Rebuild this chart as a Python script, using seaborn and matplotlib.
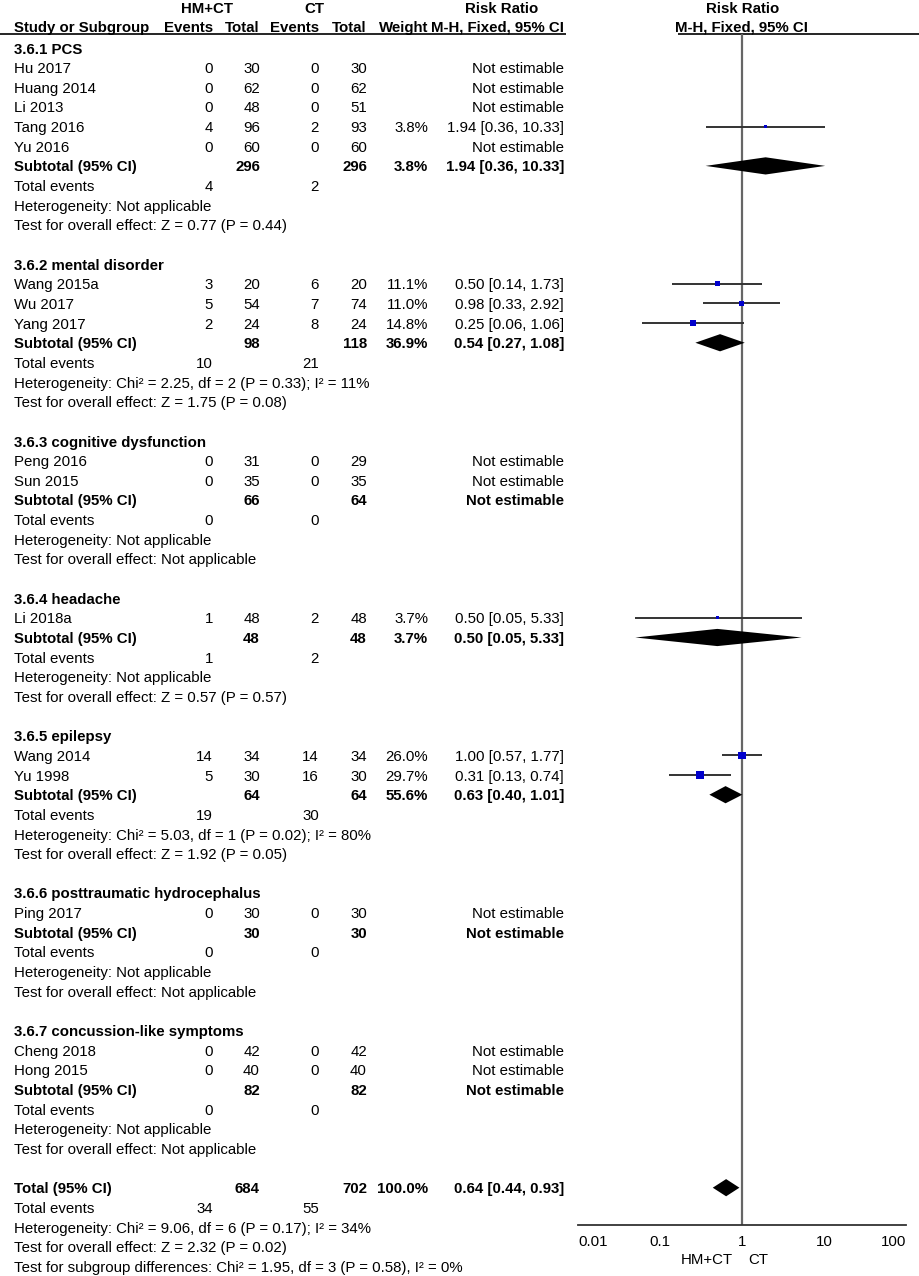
"""
plot.py
Forest plot: HM+CT vs CT, risk ratio by subgroup
"""

import numpy as np
import pandas as pd
import matplotlib

matplotlib.use("Agg")
import matplotlib.pyplot as plt
import seaborn as sns

sns.set_style("white")
plt.rcParams["font.family"] = ["Liberation Sans", "DejaVu Sans"]

# ---------------- data ----------------
group_names = [
    "3.6.1 PCS",
    "3.6.2 mental disorder",
    "3.6.3 cognitive dysfunction",
    "3.6.4 headache",
    "3.6.5 epilepsy",
    "3.6.6 posttraumatic hydrocephalus",
    "3.6.7 concussion-like symptoms",
]

study_group = [0, 0, 0, 0, 0, 1, 1, 1, 2, 2, 3, 4, 4, 5, 6, 6]
study_names = [
    "Hu 2017", "Huang 2014", "Li 2013", "Tang 2016", "Yu 2016",
    "Wang 2015a", "Wu 2017", "Yang 2017",
    "Peng 2016", "Sun 2015",
    "Li 2018a",
    "Wang 2014", "Yu 1998",
    "Ping 2017",
    "Cheng 2018", "Hong 2015",
]
hm_events = [0, 0, 0, 4, 0, 3, 5, 2, 0, 0, 1, 14, 5, 0, 0, 0]
hm_totals = [30, 62, 48, 96, 60, 20, 54, 24, 31, 35, 48, 34, 30, 30, 42, 40]
ct_events = [0, 0, 0, 2, 0, 6, 7, 8, 0, 0, 2, 14, 16, 0, 0, 0]
ct_totals = [30, 62, 51, 93, 60, 20, 74, 24, 29, 35, 48, 34, 30, 30, 42, 40]
nan = np.nan
study_weight = [nan, nan, nan, 3.8, nan, 11.1, 11.0, 14.8, nan, nan, 3.7, 26.0, 29.7, nan, nan, nan]
study_rr = [nan, nan, nan, 1.94, nan, 0.50, 0.98, 0.25, nan, nan, 0.50, 1.00, 0.31, nan, nan, nan]
study_lo = [nan, nan, nan, 0.36, nan, 0.14, 0.33, 0.06, nan, nan, 0.05, 0.57, 0.13, nan, nan, nan]
study_hi = [nan, nan, nan, 10.33, nan, 1.73, 2.92, 1.06, nan, nan, 5.33, 1.77, 0.74, nan, nan, nan]

sub_hm_total = [296, 98, 66, 48, 64, 30, 82]
sub_ct_total = [296, 118, 64, 48, 64, 30, 82]
sub_hm_events = [4, 10, 0, 1, 19, 0, 0]
sub_ct_events = [2, 21, 0, 2, 30, 0, 0]
sub_weight = [3.8, 36.9, nan, 3.7, 55.6, nan, nan]
sub_rr = [1.94, 0.54, nan, 0.50, 0.63, nan, nan]
sub_lo = [0.36, 0.27, nan, 0.05, 0.40, nan, nan]
sub_hi = [10.33, 1.08, nan, 5.33, 1.01, nan, nan]
sub_heterogeneity = [
    "Not applicable",
    "Chi² = 2.25, df = 2 (P = 0.33); I² = 11%",
    "Not applicable",
    "Not applicable",
    "Chi² = 5.03, df = 1 (P = 0.02); I² = 80%",
    "Not applicable",
    "Not applicable",
]
sub_overall = [
    "Z = 0.77 (P = 0.44)",
    "Z = 1.75 (P = 0.08)",
    "Not applicable",
    "Z = 0.57 (P = 0.57)",
    "Z = 1.92 (P = 0.05)",
    "Not applicable",
    "Not applicable",
]

total_hm, total_ct = 684, 702
total_hm_events, total_ct_events = 34, 55
total_weight = 100.0
total_rr, total_lo, total_hi = 0.64, 0.44, 0.93
total_heterogeneity = "Chi² = 9.06, df = 6 (P = 0.17); I² = 34%"
total_overall = "Z = 2.32 (P = 0.02)"
subgroup_diff = "Chi² = 1.95, df = 3 (P = 0.58), I² = 0%"

x_ticks = [0.01, 0.1, 1, 10, 100]
x_tick_labels = ["0.01", "0.1", "1", "10", "100"]

# ---------------- layout ----------------
W, H = 920, 1276
ROW0, DY = 48.0, 19.65
FS = 10.8
BLUE = "#0000CC"
LINE = "#333333"

X_NAME = 14
X_HM_EV, X_HM_TOT = 213, 260
X_CT_EV, X_CT_TOT = 319, 367
X_WEIGHT, X_RR = 428, 564


def row(px):
    return (px - ROW0) / DY


def fmt_rr(est, lo, hi):
    if np.isnan(est):
        return "Not estimable"
    return f"{est:.2f} [{lo:.2f}, {hi:.2f}]"


def fmt_w(w):
    return "" if np.isnan(w) else f"{w:.1f}%"


# build row list
rows = []
for g in range(len(group_names)):
    rows.append(("heading", g))
    for i, sg in enumerate(study_group):
        if sg == g:
            rows.append(("study", i))
    for kind in ["subtotal", "events", "het", "test", "blank"]:
        rows.append((kind, g))
for kind in ["total", "total_events", "total_het", "total_test", "subgroup_test"]:
    rows.append((kind, None))

fig = plt.figure(figsize=(W / 100, H / 100), dpi=100)
ax = fig.add_axes([0, 0, 1, 1])
ax.set_xlim(0, W)
ax.set_ylim(row(H), row(0))
ax.axis("off")


def put(x, r, s, ha="right", bold=False):
    ax.text(x, r + 0.28, s, ha=ha, va="baseline", fontsize=FS,
            fontweight="bold" if bold else "normal", color="black", zorder=3)


# header
hr1, hr2 = row(7.5), row(26.0)
put(207, hr1, "HM+CT", ha="center", bold=True)
put(314, hr1, "CT", ha="center", bold=True)
put(502, hr1, "Risk Ratio", ha="center", bold=True)
put(743, hr1, "Risk Ratio", ha="center", bold=True)
put(X_NAME, hr2, "Study or Subgroup", ha="left", bold=True)
put(X_HM_EV, hr2, "Events", bold=True)
put(X_HM_TOT, hr2, "Total", bold=True)
put(X_CT_EV, hr2, "Events", bold=True)
put(X_CT_TOT, hr2, "Total", bold=True)
put(X_WEIGHT, hr2, "Weight", bold=True)
put(X_RR, hr2, "M-H, Fixed, 95% CI", bold=True)
put(741, hr2, "M-H, Fixed, 95% CI", ha="center", bold=True)
ax.hlines(row(33.5), 0, 566, color="black", lw=1.2, zorder=2)
ax.hlines(row(33.5), 678, W, color="black", lw=1.2, zorder=2)

diamonds = []
for r, (kind, k) in enumerate(rows):
    if kind == "heading":
        put(X_NAME, r, group_names[k], ha="left", bold=True)
    elif kind == "study":
        put(X_NAME, r, study_names[k], ha="left")
        put(X_HM_EV, r, str(hm_events[k]))
        put(X_HM_TOT, r, str(hm_totals[k]))
        put(X_CT_EV, r, str(ct_events[k]))
        put(X_CT_TOT, r, str(ct_totals[k]))
        put(X_WEIGHT, r, fmt_w(study_weight[k]))
        put(X_RR, r, fmt_rr(study_rr[k], study_lo[k], study_hi[k]))
    elif kind == "subtotal":
        put(X_NAME, r, "Subtotal (95% CI)", ha="left", bold=True)
        put(X_HM_TOT, r, str(sub_hm_total[k]), bold=True)
        put(X_CT_TOT, r, str(sub_ct_total[k]), bold=True)
        put(X_WEIGHT, r, fmt_w(sub_weight[k]), bold=True)
        put(X_RR, r, fmt_rr(sub_rr[k], sub_lo[k], sub_hi[k]), bold=True)
        if not np.isnan(sub_rr[k]):
            diamonds.append((r, sub_lo[k], sub_rr[k], sub_hi[k]))
    elif kind == "events":
        put(X_NAME, r, "Total events", ha="left")
        put(X_HM_EV, r, str(sub_hm_events[k]))
        put(X_CT_EV, r, str(sub_ct_events[k]))
    elif kind == "het":
        put(X_NAME, r, "Heterogeneity: " + sub_heterogeneity[k], ha="left")
    elif kind == "test":
        put(X_NAME, r, "Test for overall effect: " + sub_overall[k], ha="left")
    elif kind == "total":
        put(X_NAME, r, "Total (95% CI)", ha="left", bold=True)
        put(X_HM_TOT, r, str(total_hm), bold=True)
        put(X_CT_TOT, r, str(total_ct), bold=True)
        put(X_WEIGHT, r, fmt_w(total_weight), bold=True)
        put(X_RR, r, fmt_rr(total_rr, total_lo, total_hi), bold=True)
        diamonds.append((r, total_lo, total_rr, total_hi))
    elif kind == "total_events":
        put(X_NAME, r, "Total events", ha="left")
        put(X_HM_EV, r, str(total_hm_events))
        put(X_CT_EV, r, str(total_ct_events))
    elif kind == "total_het":
        put(X_NAME, r, "Heterogeneity: " + total_heterogeneity, ha="left")
    elif kind == "total_test":
        put(X_NAME, r, "Test for overall effect: " + total_overall, ha="left")
    elif kind == "subgroup_test":
        put(X_NAME, r, "Test for subgroup differences: " + subgroup_diff, ha="left")

# ---------------- forest panel ----------------
AX_L, AX_R, AX_BOTTOM = 578, 906, 1225
fax = fig.add_axes([AX_L / W, (H - AX_BOTTOM) / H, (AX_R - AX_L) / W, AX_BOTTOM / H])
fax.patch.set_alpha(0)
fax.set_xscale("log")

study_rows = {k: r for r, (kind, k) in enumerate(rows) if kind == "study"}
df = pd.DataFrame({
    "row": [study_rows[i] for i in range(len(study_names))],
    "rr": study_rr,
    "lo": study_lo,
    "hi": study_hi,
    "weight": study_weight,
}).dropna()

fax.hlines(df["row"], df["lo"], df["hi"], color=LINE, lw=1.4, zorder=2)
sns.scatterplot(
    data=df, x="rr", y="row", size="weight",
    sizes=(0, 120), size_norm=(0, 100),
    marker="s", color=BLUE, linewidth=0, legend=False, ax=fax, zorder=3,
)

half = 8.6 / DY
for r, lo, est, hi in diamonds:
    fax.fill([lo, est, hi, est], [r, r - half, r, r + half],
             color="black", lw=0, zorder=3)

fax.vlines(1, row(33.5), row(AX_BOTTOM), color="#666666", lw=1.6, zorder=1)

fax.set_xlim(x_ticks[0], x_ticks[-1])
fax.set_ylim(row(AX_BOTTOM), row(0))
fax.set_xlabel("")
fax.set_ylabel("")
fax.set_yticks([])
fax.set_xticks(x_ticks)
fax.set_xticklabels(x_tick_labels)
fax.xaxis.set_minor_locator(matplotlib.ticker.NullLocator())
labels = fax.get_xticklabels()
labels[0].set_ha("left")
labels[-1].set_ha("right")
fax.tick_params(axis="x", direction="inout", length=6.5, width=1.2,
                pad=4, labelsize=FS, color=LINE, labelcolor="black")
for side in ["top", "left", "right"]:
    fax.spines[side].set_visible(False)
fax.spines["bottom"].set_color(LINE)
fax.spines["bottom"].set_linewidth(1.3)

put(733, row(1258), "HM+CT", ha="right")
put(748, row(1258), "CT", ha="left")

fig.savefig("out.png", dpi=100)
plt.close(fig)
